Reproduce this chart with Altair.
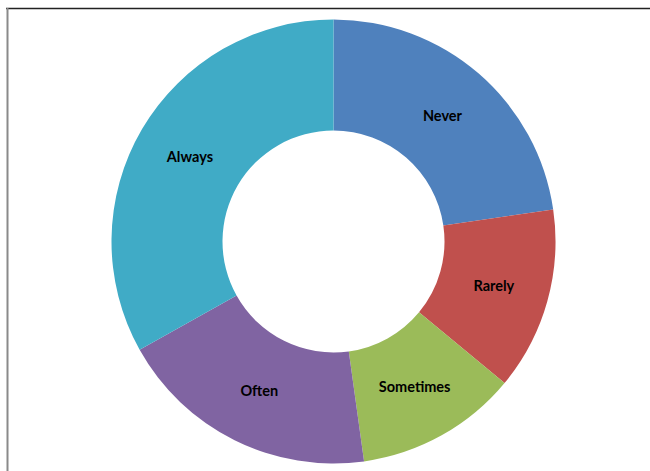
import altair as alt
import pandas as pd

categories = ["Never", "Rarely", "Sometimes", "Often", "Always"]
values = [22.7, 13.3, 11.8, 19.1, 33.1]
colors = ["#4F81BD", "#C0504D", "#9BBB59", "#8064A2", "#40ABC6"]

df = pd.DataFrame({"category": categories, "value": values, "idx": list(range(len(categories)))})

cx, cy = 333.5, 241.5

base = alt.Chart(df).encode(
    theta=alt.Theta("value:Q", stack=True),
    order=alt.Order("idx:Q"),
)

arcs = base.mark_arc(outerRadius=222, innerRadius=111, stroke=None).encode(
    color=alt.Color("category:N", scale=alt.Scale(domain=categories, range=colors), legend=None),
    x=alt.value(cx),
    y=alt.value(cy),
)

labels = base.mark_text(radius=166.5, dy=1, font="Lato", fontWeight="bold", fontSize=14.5, color="#000000").encode(
    text="category:N",
    x=alt.value(cx),
    y=alt.value(cy),
)

top_line = alt.Chart(pd.DataFrame({"a": [0]})).mark_rule(color="#222222", strokeWidth=1.5).encode(
    x=alt.value(6), x2=alt.value(650), y=alt.value(8.5)
)
left_line = alt.Chart(pd.DataFrame({"a": [0]})).mark_rule(color="#8a8a8a", strokeWidth=2).encode(
    x=alt.value(7.5), y=alt.value(8), y2=alt.value(471)
)

chart = alt.layer(arcs, labels, top_line, left_line).properties(
    width=650, height=471, padding=0,
    autosize=alt.AutoSizeParams(type="none"),
    background="white",
).configure_view(stroke=None)

chart.save("out.html", embed_options={"renderer": "svg", "actions": False})
